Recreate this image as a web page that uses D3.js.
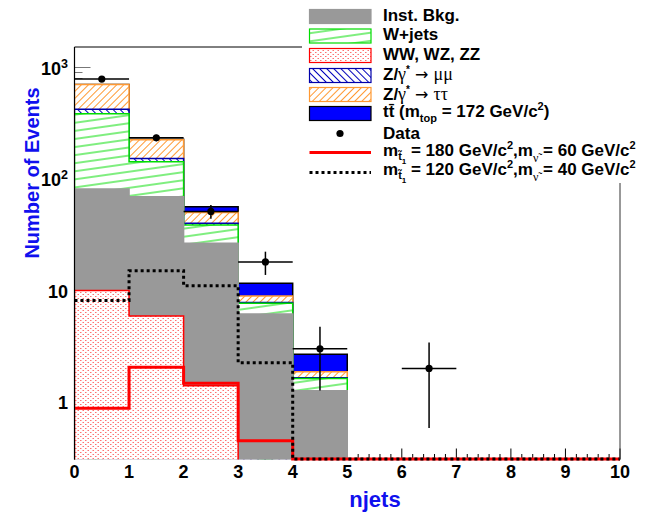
<!DOCTYPE html>
<html>
<head>
<meta charset="utf-8">
<script src="https://cdn.jsdelivr.net/npm/d3@7"></script>
<style>
  body { margin: 0; background: #fff; }
  svg { display: block; }
  text { font-family: "Liberation Sans", Arial, Helvetica, sans-serif; font-weight: bold; }
</style>
</head>
<body>
<svg id="chart" width="651" height="514"></svg>
<script>
// Jet multiplicity bins (lower edges), each bin is one unit wide
const njets = [0, 1, 2, 3, 4, 5, 6, 7, 8, 9];

// Background expectations per bin, stacked bottom to top
const wwWzZz  = [10, 5.9, 1.4, 0.2, 0.05, 0, 0, 0, 0, 0];
const instBkg = [71, 63.1, 25.0, 5.95, 1.21, 0, 0, 0, 0, 0];
const wJets   = [302, 73, 12.1, 1.51, 0.36, 0, 0, 0, 0, 0];
const zMuMu   = [38, 10, 1.4, 0.14, 0.03, 0, 0, 0, 0, 0];
const zTauTau = [279, 72, 10.0, 1.1, 0.22, 0, 0, 0, 0, 0];
const ttbar   = [0.8, 2, 6.3, 2.7, 0.81, 0, 0, 0, 0, 0];

// Observed events
const data = [784, 233, 51, 18, 3, 0, 2, 0, 0, 0];

// Signal hypotheses (stop / sneutrino masses)
const stop180 = [0.88, 2.05, 1.47, 0.45, 0, 0, 0, 0, 0, 0];
const stop120 = [8.1, 15, 11, 2.25, 0, 0, 0, 0, 0, 0];

// Axis ticks
const xTickLabels = [0, 1, 2, 3, 4, 5, 6, 7, 8, 9, 10];
const yTickLabels = [1, 10, 100, 1000];

const svg = d3.select("#chart");
const frame = { left: 74.5, right: 620, top: 47, bottom: 459.5 };

const x = d3.scaleLinear().domain([0, 10]).range([frame.left, frame.right]);
const y = d3.scaleLog().domain([0.305, 1520]).range([frame.bottom, frame.top]);
const yMin = y.domain()[0];

// ---- fill patterns ----
const defs = svg.append("defs");
function hatch(id, w, h, rot, color, lineDef) {
  const p = defs.append("pattern").attr("id", id)
    .attr("patternUnits", "userSpaceOnUse")
    .attr("width", w).attr("height", h)
    .attr("patternTransform", `rotate(${rot})`);
  p.append("rect").attr("width", w).attr("height", h).attr("fill", "#fff");
  p.append("line").attr("x1", lineDef[0]).attr("y1", lineDef[1])
    .attr("x2", lineDef[2]).attr("y2", lineDef[3])
    .attr("stroke", color).attr("stroke-width", 1);
}
hatch("pGreen", 80, 8, -8, "#00dd00", [0, 4, 80, 4]);
hatch("pOrange", 5, 5, 45, "#ff9933", [2.5, 0, 2.5, 5]);
hatch("pBlue", 5, 5, -45, "#0000bb", [2.5, 0, 2.5, 5]);
const dots = defs.append("pattern").attr("id", "pDots")
  .attr("patternUnits", "userSpaceOnUse").attr("width", 5).attr("height", 4);
dots.append("rect").attr("width", 5).attr("height", 4).attr("fill", "#fff");
dots.append("rect").attr("x", 0).attr("y", 0).attr("width", 1.5).attr("height", 1).attr("fill", "#ff4040").attr("opacity", 0.75);
dots.append("rect").attr("x", 2.5).attr("y", 2).attr("width", 1.5).attr("height", 1).attr("fill", "#ff4040").attr("opacity", 0.75);

defs.append("clipPath").attr("id", "frameClip").append("rect")
  .attr("x", frame.left).attr("y", frame.top)
  .attr("width", frame.right - frame.left).attr("height", frame.bottom - frame.top);

// ---- axis ticks (drawn first, histograms paint over them) ----
const ticks = svg.append("g");
const yMinor = [];
for (let dec = 0.1; dec <= 1000; dec *= 10) {
  for (let m = 1; m <= 9; m++) {
    const v = +(m * dec).toPrecision(3);
    if (v >= yMin && v <= 1520) yMinor.push(v);
  }
}
ticks.selectAll(".yt").data(yMinor).join("line")
  .attr("x1", frame.left).attr("x2", d => frame.left + (yTickLabels.includes(d) ? 16 : 8))
  .attr("y1", d => Math.round(y(d)) + 0.5).attr("y2", d => Math.round(y(d)) + 0.5)
  .attr("stroke", "#777").attr("stroke-width", 1);
const xMinor = d3.range(0, 10.001, 0.2).map(v => +v.toFixed(1));
ticks.selectAll(".xt").data(xMinor).join("line")
  .attr("x1", d => x(d)).attr("x2", d => x(d))
  .attr("y1", frame.bottom)
  .attr("y2", d => frame.bottom - (Number.isInteger(d) ? 11 : 5.5))
  .attr("stroke", "#000").attr("stroke-width", 1);
ticks.append("line").attr("x1", frame.left).attr("x2", frame.right)
  .attr("y1", frame.bottom).attr("y2", frame.bottom).attr("stroke", "#000");

// ---- stacked backgrounds ----
const keys = ["ww", "inst", "wjets", "zmm", "ztt", "tt"];
const table = njets.map((n, i) => ({
  n, ww: wwWzZz[i], inst: instBkg[i], wjets: wJets[i],
  zmm: zMuMu[i], ztt: zTauTau[i], tt: ttbar[i]
}));
const series = d3.stack().keys(keys)(table);
const layerStyle = {
  ww:    { fill: "url(#pDots)",   stroke: "#ff0000" },
  inst:  { fill: "#999999",       stroke: "#999999" },
  wjets: { fill: "url(#pGreen)",  stroke: "#00dd00" },
  zmm:   { fill: "url(#pBlue)",   stroke: "#0000aa" },
  ztt:   { fill: "url(#pOrange)", stroke: "#ff9933" },
  tt:    { fill: "#0000ff",       stroke: "#000000" }
};
const below = frame.bottom + 4;
const area = d3.area().curve(d3.curveStepAfter)
  .x(p => x(p[0])).y0(below)
  .y1(p => p[1] > yMin ? y(p[1]) : below);

const stackG = svg.append("g").attr("clip-path", "url(#frameClip)");
// paint cumulative totals from the top layer downwards
for (let k = series.length - 1; k >= 0; k--) {
  const s = series[k];
  const pts = s.map((d, i) => [njets[i], d[1]]);
  pts.push([10, s[s.length - 1][1]]);
  const st = layerStyle[s.key];
  stackG.append("path").attr("d", area(pts))
    .attr("fill", st.fill).attr("stroke", st.stroke).attr("stroke-width", 1.5);
}

// ---- signal step lines ----
const stepLine = d3.line().curve(d3.curveStepAfter)
  .x(p => x(p[0])).y(p => p[1] > yMin ? y(p[1]) : frame.bottom - 0.5);
function stepPts(vals) {
  const pts = vals.map((v, i) => [njets[i], v]);
  pts.push([10, vals[vals.length - 1]]);
  return pts;
}
svg.append("path").attr("d", stepLine(stepPts(stop180)))
  .attr("fill", "none").attr("stroke", "#ff0000").attr("stroke-width", 3);
svg.append("path").attr("d", stepLine(stepPts(stop120)))
  .attr("fill", "none").attr("stroke", "#000").attr("stroke-width", 3)
  .attr("stroke-dasharray", "3,3");

// ---- data points with errors ----
const pts = njets.map((n, i) => ({ n, v: data[i] })).filter(d => d.v > 0);
const dataG = svg.append("g");
dataG.selectAll(".eh").data(pts).join("line")
  .attr("x1", d => x(d.n)).attr("x2", d => x(d.n + 1))
  .attr("y1", d => y(d.v)).attr("y2", d => y(d.v))
  .attr("stroke", "#000").attr("stroke-width", 1.5);
dataG.selectAll(".ev").data(pts).join("line")
  .attr("x1", d => x(d.n + 0.5)).attr("x2", d => x(d.n + 0.5))
  .attr("y1", d => y(d.v + Math.sqrt(d.v)))
  .attr("y2", d => y(Math.max(d.v - Math.sqrt(d.v), yMin)))
  .attr("stroke", "#000").attr("stroke-width", 1.5);
dataG.selectAll("circle").data(pts).join("circle")
  .attr("cx", d => x(d.n + 0.5)).attr("cy", d => y(d.v)).attr("r", 3.6)
  .attr("fill", "#000");

// ---- frame ----
svg.append("line").attr("x1", frame.left).attr("x2", frame.right)
  .attr("y1", frame.top).attr("y2", frame.top).attr("stroke", "#000");
svg.append("line").attr("x1", frame.right).attr("x2", frame.right)
  .attr("y1", frame.top).attr("y2", frame.bottom).attr("stroke", "#333");
svg.append("line").attr("x1", frame.left).attr("x2", frame.left)
  .attr("y1", frame.top).attr("y2", frame.bottom).attr("stroke", "#000").attr("stroke-width", 1.2);

// ---- tick labels ----
const yl = svg.append("g");
yTickLabels.forEach(v => {
  const t = yl.append("text").attr("x", 68).attr("y", y(v) + 7.5)
    .attr("text-anchor", "end").attr("font-size", 18).attr("fill", "#000");
  const e = Math.round(Math.log10(v));
  if (e >= 2) {
    t.append("tspan").text("10");
    t.append("tspan").attr("dy", -7).attr("font-size", 12.5).text(e);
  } else {
    t.text(v);
  }
});
svg.append("g").selectAll("text").data(xTickLabels).join("text")
  .attr("x", d => x(d)).attr("y", 477.5).attr("text-anchor", "middle")
  .attr("font-size", 18).attr("fill", "#000").text(d => d);

// ---- axis titles ----
svg.append("text").attr("transform", "translate(39,173) rotate(-90)")
  .attr("text-anchor", "middle").attr("font-size", 20).attr("fill", "#1010ee")
  .text("Number of Events");
svg.append("text").attr("x", 375).attr("y", 507).attr("text-anchor", "middle")
  .attr("font-size", 22).attr("fill", "#1010ee").text("njets");

// ---- legend ----
const leg = svg.append("g");
leg.append("rect").attr("x", 302).attr("y", 0).attr("width", 349).attr("height", 183).attr("fill", "#fff");
const boxX = 309.5, boxW = 61.5, boxH = 14, textX = 383;
const boxes = [
  { y: 9.5,   fill: "#999999",       stroke: "#999999" },
  { y: 29,    fill: "url(#pGreen)",  stroke: "#00dd00" },
  { y: 48.5,  fill: "url(#pDots)",   stroke: "#ff0000" },
  { y: 68.5,  fill: "url(#pBlue)",   stroke: "#0000aa" },
  { y: 87.5,  fill: "url(#pOrange)", stroke: "#ff9933" },
  { y: 106.5, fill: "#0000ff",       stroke: "#000000" }
];
leg.selectAll(".lb").data(boxes).join("rect")
  .attr("x", boxX).attr("y", d => d.y).attr("width", boxW).attr("height", boxH)
  .attr("fill", d => d.fill).attr("stroke", d => d.stroke).attr("stroke-width", 1.2);
leg.append("circle").attr("cx", 340).attr("cy", 133.5).attr("r", 3.6).attr("fill", "#000");
leg.append("line").attr("x1", boxX).attr("x2", boxX + boxW).attr("y1", 152.5).attr("y2", 152.5)
  .attr("stroke", "#ff0000").attr("stroke-width", 3);
leg.append("line").attr("x1", boxX).attr("x2", boxX + boxW).attr("y1", 172.5).attr("y2", 172.5)
  .attr("stroke", "#000").attr("stroke-width", 3).attr("stroke-dasharray", "3,3");

const fs = 17;
const serif = "'Liberation Serif', 'DejaVu Serif', serif";
const symb = "'DejaVu Sans', sans-serif";
function legText(yb) {
  return leg.append("text").attr("x", textX).attr("y", yb).attr("font-size", fs).attr("fill", "#000");
}
legText(20.7).text("Inst. Bkg.");
legText(39.8).text("W+jets");
legText(59.8).text("WW, WZ, ZZ");
function zLine(yb, fin) {
  const t = legText(yb);
  t.append("tspan").text("Z/");
  t.append("tspan").attr("font-family", serif).attr("font-weight", "normal").attr("font-size", 18).text("γ");
  t.append("tspan").attr("dy", -7).attr("font-size", 10).text("*");
  t.append("tspan").attr("dy", 7).attr("font-family", symb).attr("font-weight", "normal")
    .attr("font-size", 16).text(" \u2192 ");
  t.append("tspan").attr("font-family", serif).attr("font-weight", "normal")
    .attr("font-size", 18).text(fin);
}
zLine(80, "μμ");
zLine(99.5, "ττ");
{
  const t = legText(117);
  t.append("tspan").text("tt\u0304 (m");
  t.append("tspan").attr("dy", 5).attr("font-size", 11).text("top");
  t.append("tspan").attr("dy", -5).text(" = 172 GeV/c");
  t.append("tspan").attr("dy", -7).attr("font-size", 11).text("2");
  t.append("tspan").attr("dy", 7).text(")");
}
legText(138.5).text("Data");
function sigLine(yb, mStop, mSnu) {
  const t = legText(yb);
  t.append("tspan").text("m");
  t.append("tspan").attr("dy", 4).attr("font-size", 11).text("t\u0303");
  t.append("tspan").attr("dy", 4).attr("font-size", 8).text("1");
  t.append("tspan").attr("dy", -8).text(` = ${mStop} GeV/c`);
  t.append("tspan").attr("dy", -7).attr("font-size", 11).text("2");
  t.append("tspan").attr("dy", 7).text(",m");
  t.append("tspan").attr("dy", 6).attr("font-family", serif).attr("font-weight", "normal")
    .attr("font-size", 12).text("\u03bd\u0303");
  t.append("tspan").attr("dy", -6).text(` = ${mSnu} GeV/c`);
  t.append("tspan").attr("dy", -7).attr("font-size", 11).text("2");
}
sigLine(156, 180, 60);
sigLine(174.5, 120, 40);
</script>
</body>
</html>
